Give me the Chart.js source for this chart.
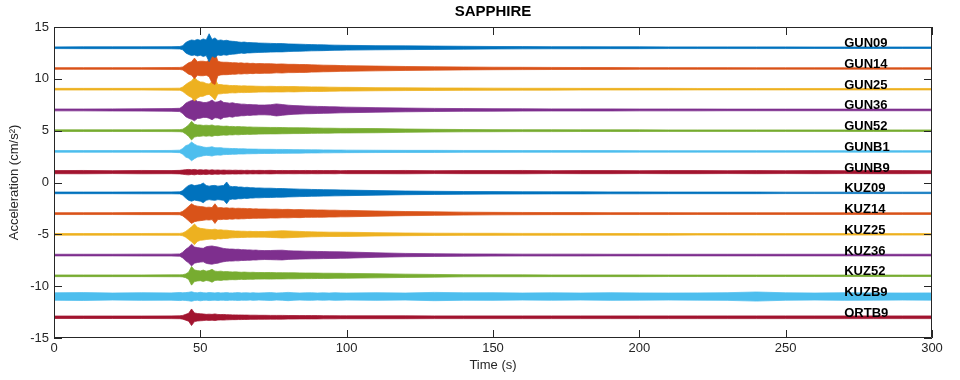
<!DOCTYPE html>
<html>
<head>
<meta charset="utf-8">
<script src="https://cdn.jsdelivr.net/npm/chart.js@4/dist/chart.umd.min.js"></script>
<style>
  html, body { margin: 0; padding: 0; background: #ffffff; }
  #wrap { width: 960px; height: 380px; }
</style>
</head>
<body>
<div id="wrap"><canvas id="c" width="960" height="380"></canvas></div>
<script>
// ---- DATA ----
const chartTitle = 'SAPPHIRE';
const xTitle = 'Time (s)';
const yTitle = 'Acceleration (cm/s\u00B2)';

const stations = ['GUN09','GUN14','GUN25','GUN36','GUN52','GUNB1','GUNB9',
                  'KUZ09','KUZ14','KUZ25','KUZ36','KUZ52','KUZB9','ORTB9'];
const offsets  = [13, 11, 9, 7, 5, 3, 1, -1, -3, -5, -7, -9, -11, -13];

const xTicks = [0, 50, 100, 150, 200, 250, 300];
const yTicks = [-15, -10, -5, 0, 5, 10, 15];

// sample times (s) at which the envelope half-width was read
const times = [0,10,20,30,40,43,
  44,45,46,47,48,49,50,51,52,53,54,55,56,57,58,59,60,61,62,63,64,65,66,67,68,69,70,
  72,74,76,78,80,82,84,86,88,90,92,94,96,98,100,
  110,120,130,140,150,160,170,180,190,200,210,220,230,240,250,260,270,280,290,300];

// envelope half-width (cm/s^2) of each trace at those times
const amp_GUN09 = [0.08,0.09,0.09,0.09,0.1,0.12,
  0.2,0.5,0.65,0.75,0.7,0.8,0.72,0.85,0.75,1.35,0.8,0.95,0.7,0.75,0.68,0.72,0.65,0.62,0.6,0.56,0.52,0.55,0.5,0.5,0.48,0.47,0.45,
  0.44,0.42,0.4,0.4,0.37,0.35,0.34,0.32,0.3,0.29,0.28,0.26,0.25,0.24,0.23,
  0.2,0.18,0.16,0.14,0.12,0.11,0.1,0.1,0.09,0.09,0.08,0.08,0.08,0.08,0.08,0.07,0.07,0.07,0.07,0.07];
const amp_GUN14 = [0.08,0.08,0.08,0.08,0.09,0.1,
  0.15,0.35,0.55,0.65,1.0,0.65,0.7,0.7,0.65,0.8,1.4,1.55,0.7,0.62,0.6,0.6,0.58,0.55,0.56,0.52,0.54,0.5,0.52,0.48,0.5,0.46,0.48,
  0.46,0.46,0.42,0.44,0.4,0.4,0.38,0.38,0.35,0.34,0.32,0.31,0.3,0.28,0.27,
  0.23,0.19,0.16,0.14,0.12,0.11,0.1,0.09,0.09,0.08,0.08,0.08,0.08,0.07,0.07,0.07,0.07,0.07,0.07,0.07];
const amp_GUN25 = [0.08,0.08,0.08,0.08,0.09,0.1,
  0.22,0.45,0.65,0.8,1.15,0.85,0.7,0.68,0.55,0.5,0.72,1.05,0.46,0.45,0.4,0.4,0.36,0.35,0.36,0.33,0.32,0.33,0.31,0.31,0.3,0.29,0.28,
  0.27,0.28,0.26,0.27,0.25,0.26,0.24,0.23,0.22,0.22,0.21,0.2,0.19,0.18,0.18,
  0.15,0.13,0.12,0.11,0.1,0.09,0.09,0.08,0.08,0.08,0.08,0.07,0.07,0.07,0.07,0.07,0.07,0.07,0.07,0.07];
const amp_GUN36 = [0.09,0.09,0.1,0.11,0.13,0.16,
  0.35,0.65,0.8,0.9,1.05,0.82,0.8,0.72,0.72,0.8,0.95,0.75,0.78,0.9,0.72,0.7,0.65,0.7,0.62,0.6,0.56,0.56,0.52,0.53,0.5,0.5,0.47,
  0.47,0.5,0.58,0.52,0.46,0.42,0.4,0.37,0.36,0.34,0.33,0.31,0.3,0.28,0.27,
  0.22,0.18,0.15,0.13,0.12,0.11,0.1,0.1,0.1,0.09,0.09,0.09,0.08,0.08,0.08,0.08,0.08,0.08,0.08,0.08];
const amp_GUN52 = [0.08,0.08,0.08,0.08,0.09,0.1,
  0.14,0.32,0.55,0.9,0.62,0.55,0.55,0.5,0.53,0.5,0.55,0.46,0.48,0.44,0.42,0.44,0.4,0.41,0.38,0.4,0.37,0.37,0.35,0.36,0.34,0.34,0.33,
  0.32,0.31,0.31,0.3,0.29,0.28,0.28,0.27,0.26,0.25,0.24,0.24,0.23,0.22,0.22,
  0.2,0.16,0.13,0.11,0.1,0.09,0.09,0.08,0.08,0.08,0.07,0.07,0.07,0.07,0.07,0.07,0.07,0.07,0.07,0.07];
const amp_GUNB1 = [0.08,0.08,0.08,0.08,0.09,0.12,
  0.28,0.55,0.65,0.9,0.7,0.55,0.5,0.42,0.38,0.4,0.45,0.36,0.35,0.36,0.31,0.3,0.29,0.27,0.28,0.25,0.25,0.25,0.23,0.23,0.22,0.22,0.21,
  0.2,0.2,0.19,0.19,0.18,0.17,0.17,0.16,0.15,0.15,0.14,0.14,0.13,0.13,0.12,
  0.11,0.1,0.1,0.09,0.09,0.08,0.08,0.08,0.08,0.07,0.07,0.07,0.07,0.07,0.07,0.07,0.07,0.07,0.07,0.07];
const amp_GUNB9 = [0.15,0.16,0.14,0.16,0.15,0.17,
  0.2,0.24,0.26,0.22,0.26,0.2,0.24,0.2,0.23,0.19,0.22,0.19,0.21,0.18,0.2,0.18,0.19,0.17,0.19,0.17,0.18,0.16,0.18,0.16,0.17,0.16,0.17,
  0.16,0.17,0.15,0.16,0.15,0.16,0.15,0.16,0.15,0.16,0.15,0.15,0.16,0.14,0.15,
  0.15,0.16,0.14,0.15,0.15,0.16,0.14,0.15,0.15,0.14,0.15,0.15,0.14,0.15,0.14,0.15,0.14,0.15,0.15,0.14];
const amp_KUZ09 = [0.08,0.08,0.08,0.09,0.09,0.1,
  0.22,0.5,0.72,0.8,0.7,0.75,0.8,0.95,0.72,0.65,0.7,0.72,0.65,0.68,0.72,1.05,0.65,0.6,0.62,0.56,0.57,0.52,0.54,0.5,0.5,0.47,0.48,
  0.45,0.45,0.42,0.42,0.39,0.38,0.36,0.35,0.33,0.32,0.31,0.3,0.29,0.28,0.27,
  0.22,0.18,0.15,0.13,0.12,0.11,0.1,0.1,0.09,0.09,0.08,0.08,0.08,0.08,0.07,0.07,0.07,0.07,0.07,0.07];
const amp_KUZ14 = [0.09,0.09,0.09,0.1,0.1,0.11,
  0.22,0.45,0.7,0.95,0.78,0.72,0.68,0.65,0.6,0.62,0.58,0.95,0.56,0.58,0.54,0.56,0.52,0.54,0.5,0.52,0.5,0.5,0.47,0.48,0.45,0.46,0.44,
  0.44,0.42,0.43,0.4,0.41,0.38,0.39,0.36,0.36,0.35,0.35,0.33,0.33,0.31,0.31,
  0.25,0.2,0.17,0.14,0.12,0.11,0.1,0.1,0.09,0.09,0.09,0.08,0.08,0.08,0.08,0.08,0.08,0.08,0.08,0.08];
const amp_KUZ25 = [0.08,0.08,0.08,0.08,0.09,0.09,
  0.14,0.28,0.5,0.72,1.0,0.68,0.58,0.55,0.5,0.47,0.45,0.5,0.42,0.44,0.4,0.4,0.36,0.34,0.32,0.32,0.3,0.3,0.28,0.29,0.27,0.28,0.27,
  0.27,0.3,0.32,0.35,0.33,0.3,0.28,0.26,0.24,0.23,0.22,0.21,0.21,0.2,0.2,
  0.16,0.13,0.11,0.1,0.1,0.09,0.09,0.08,0.08,0.08,0.08,0.07,0.07,0.07,0.07,0.07,0.07,0.07,0.07,0.07];
const amp_KUZ36 = [0.08,0.08,0.08,0.09,0.09,0.11,
  0.28,0.55,0.75,1.05,0.78,0.72,0.68,0.65,0.8,0.85,0.88,0.82,0.78,0.7,0.64,0.6,0.58,0.58,0.55,0.56,0.52,0.52,0.5,0.5,0.47,0.48,0.45,
  0.43,0.44,0.46,0.47,0.42,0.4,0.39,0.37,0.36,0.35,0.34,0.33,0.32,0.31,0.3,
  0.22,0.16,0.13,0.11,0.1,0.09,0.09,0.09,0.08,0.08,0.08,0.08,0.08,0.08,0.08,0.08,0.08,0.08,0.08,0.08];
const amp_KUZ52 = [0.08,0.08,0.08,0.08,0.09,0.09,
  0.11,0.18,0.35,0.9,0.56,0.5,0.47,0.55,0.45,0.5,0.62,0.45,0.42,0.45,0.4,0.41,0.38,0.37,0.38,0.36,0.34,0.36,0.34,0.33,0.34,0.32,0.32,
  0.31,0.32,0.3,0.3,0.29,0.29,0.28,0.27,0.27,0.26,0.25,0.25,0.24,0.24,0.23,
  0.2,0.16,0.13,0.1,0.09,0.09,0.08,0.08,0.08,0.08,0.07,0.07,0.07,0.07,0.07,0.07,0.07,0.07,0.07,0.07];
const amp_KUZB9 = [0.36,0.38,0.34,0.37,0.35,0.39,
  0.36,0.38,0.41,0.46,0.38,0.36,0.41,0.37,0.35,0.39,0.37,0.35,0.38,0.35,0.36,0.38,0.35,0.35,0.37,0.38,0.35,0.36,0.36,0.34,0.37,0.35,0.34,
  0.36,0.38,0.34,0.36,0.4,0.36,0.34,0.36,0.37,0.34,0.36,0.34,0.37,0.35,0.34,
  0.37,0.34,0.4,0.36,0.37,0.34,0.36,0.34,0.37,0.35,0.34,0.35,0.37,0.44,0.36,0.34,0.37,0.35,0.34,0.35];
const amp_ORTB9 = [0.12,0.12,0.12,0.12,0.13,0.14,
  0.18,0.28,0.38,0.8,0.42,0.36,0.34,0.32,0.28,0.3,0.28,0.32,0.27,0.26,0.27,0.25,0.24,0.23,0.23,0.22,0.22,0.21,0.21,0.2,0.2,0.2,0.19,
  0.19,0.18,0.18,0.18,0.17,0.17,0.16,0.16,0.16,0.16,0.15,0.15,0.15,0.14,0.14,
  0.14,0.14,0.13,0.13,0.13,0.13,0.13,0.13,0.13,0.13,0.13,0.13,0.13,0.13,0.13,0.13,0.13,0.13,0.13,0.13];

const amplitudes = [amp_GUN09, amp_GUN14, amp_GUN25, amp_GUN36, amp_GUN52, amp_GUNB1, amp_GUNB9,
                    amp_KUZ09, amp_KUZ14, amp_KUZ25, amp_KUZ36, amp_KUZ52, amp_KUZB9, amp_ORTB9];

// ---- STYLE ----
const palette = ['#0072BD','#D95319','#EDB120','#7E2F8E','#77AC30','#4DBEEE','#A2142F'];
const axisColor = '#262626';
const FONT = "'Liberation Sans', Arial, Helvetica, sans-serif";
const labelTime = 270; // station labels start at this time (s)

// ---- BUILD DATASETS ----
const datasets = [];
stations.forEach((name, i) => {
  const color = palette[i % palette.length];
  const off = offsets[i];
  const a = amplitudes[i];
  datasets.push({
    label: name + ' upper',
    data: times.map((t, k) => ({ x: t, y: off + a[k] })),
    borderColor: color, backgroundColor: color,
    borderWidth: 0.75, pointRadius: 0, tension: 0, fill: false
  });
  datasets.push({
    label: name,
    data: times.map((t, k) => ({ x: t, y: off - a[k] })),
    borderColor: color, backgroundColor: color,
    borderWidth: 0.75, pointRadius: 0, tension: 0, fill: '-1'
  });
});

const decorPlugin = {
  id: 'decor',
  afterDraw(chart) {
    const { ctx, chartArea: { left, right, top, bottom }, scales: { x, y } } = chart;
    ctx.save();
    ctx.strokeStyle = axisColor;
    ctx.lineWidth = 1;
    ctx.beginPath();
    ctx.rect(Math.round(left) + 0.5, Math.round(top) + 0.5,
             Math.round(right - left) - 1, Math.round(bottom - top) - 1);
    ctx.stroke();
    const tl = 8;
    ctx.beginPath();
    xTicks.forEach(v => {
      const px = Math.round(x.getPixelForValue(v)) + 0.5;
      ctx.moveTo(px, bottom); ctx.lineTo(px, bottom - tl);
      ctx.moveTo(px, top); ctx.lineTo(px, top + tl);
    });
    yTicks.forEach(v => {
      const py = Math.round(y.getPixelForValue(v)) + 0.5;
      ctx.moveTo(left, py); ctx.lineTo(left + tl, py);
      ctx.moveTo(right, py); ctx.lineTo(right - tl, py);
    });
    ctx.stroke();
    ctx.fillStyle = '#000000';
    ctx.font = "bold 13px " + FONT;
    ctx.textAlign = 'left';
    ctx.textBaseline = 'alphabetic';
    stations.forEach((name, i) => {
      ctx.fillText(name, x.getPixelForValue(labelTime), y.getPixelForValue(offsets[i]) - 0.5);
    });
    ctx.fillStyle = '#000000';
    ctx.font = "bold 15px " + FONT;
    ctx.textAlign = 'center';
    ctx.textBaseline = 'middle';
    ctx.fillText(chartTitle, (left + right) / 2, 12);
    ctx.restore();
  }
};

new Chart(document.getElementById('c'), {
  type: 'line',
  data: { datasets },
  options: {
    responsive: false,
    animation: false,
    events: [],
    layout: { padding: { top: 27, right: 28, left: 0, bottom: 0 } },
    plugins: { legend: { display: false }, tooltip: { enabled: false }, title: { display: false } },
    scales: {
      x: {
        type: 'linear', min: 0, max: 300,
        afterBuildTicks: s => { s.ticks = xTicks.map(v => ({ value: v })); },
        afterFit: s => { s.height = 42; },
        grid: { display: false, drawTicks: false },
        border: { display: false },
        ticks: { color: axisColor, font: { family: FONT, size: 13 }, padding: 3, maxRotation: 0 },
        title: { display: true, text: xTitle, color: axisColor, font: { family: FONT, size: 13 }, padding: { top: 0, bottom: 7 } }
      },
      y: {
        type: 'linear', min: -15, max: 15,
        afterBuildTicks: s => { s.ticks = yTicks.map(v => ({ value: v })); },
        afterFit: s => { s.width = 54; },
        grid: { display: false, drawTicks: false },
        border: { display: false },
        ticks: { color: axisColor, font: { family: FONT, size: 13 }, padding: 5 },
        title: { display: true, text: yTitle, color: axisColor, font: { family: FONT, size: 13 }, padding: { top: 7, bottom: 0 } }
      }
    }
  },
  plugins: [decorPlugin]
});
</script>
</body>
</html>
